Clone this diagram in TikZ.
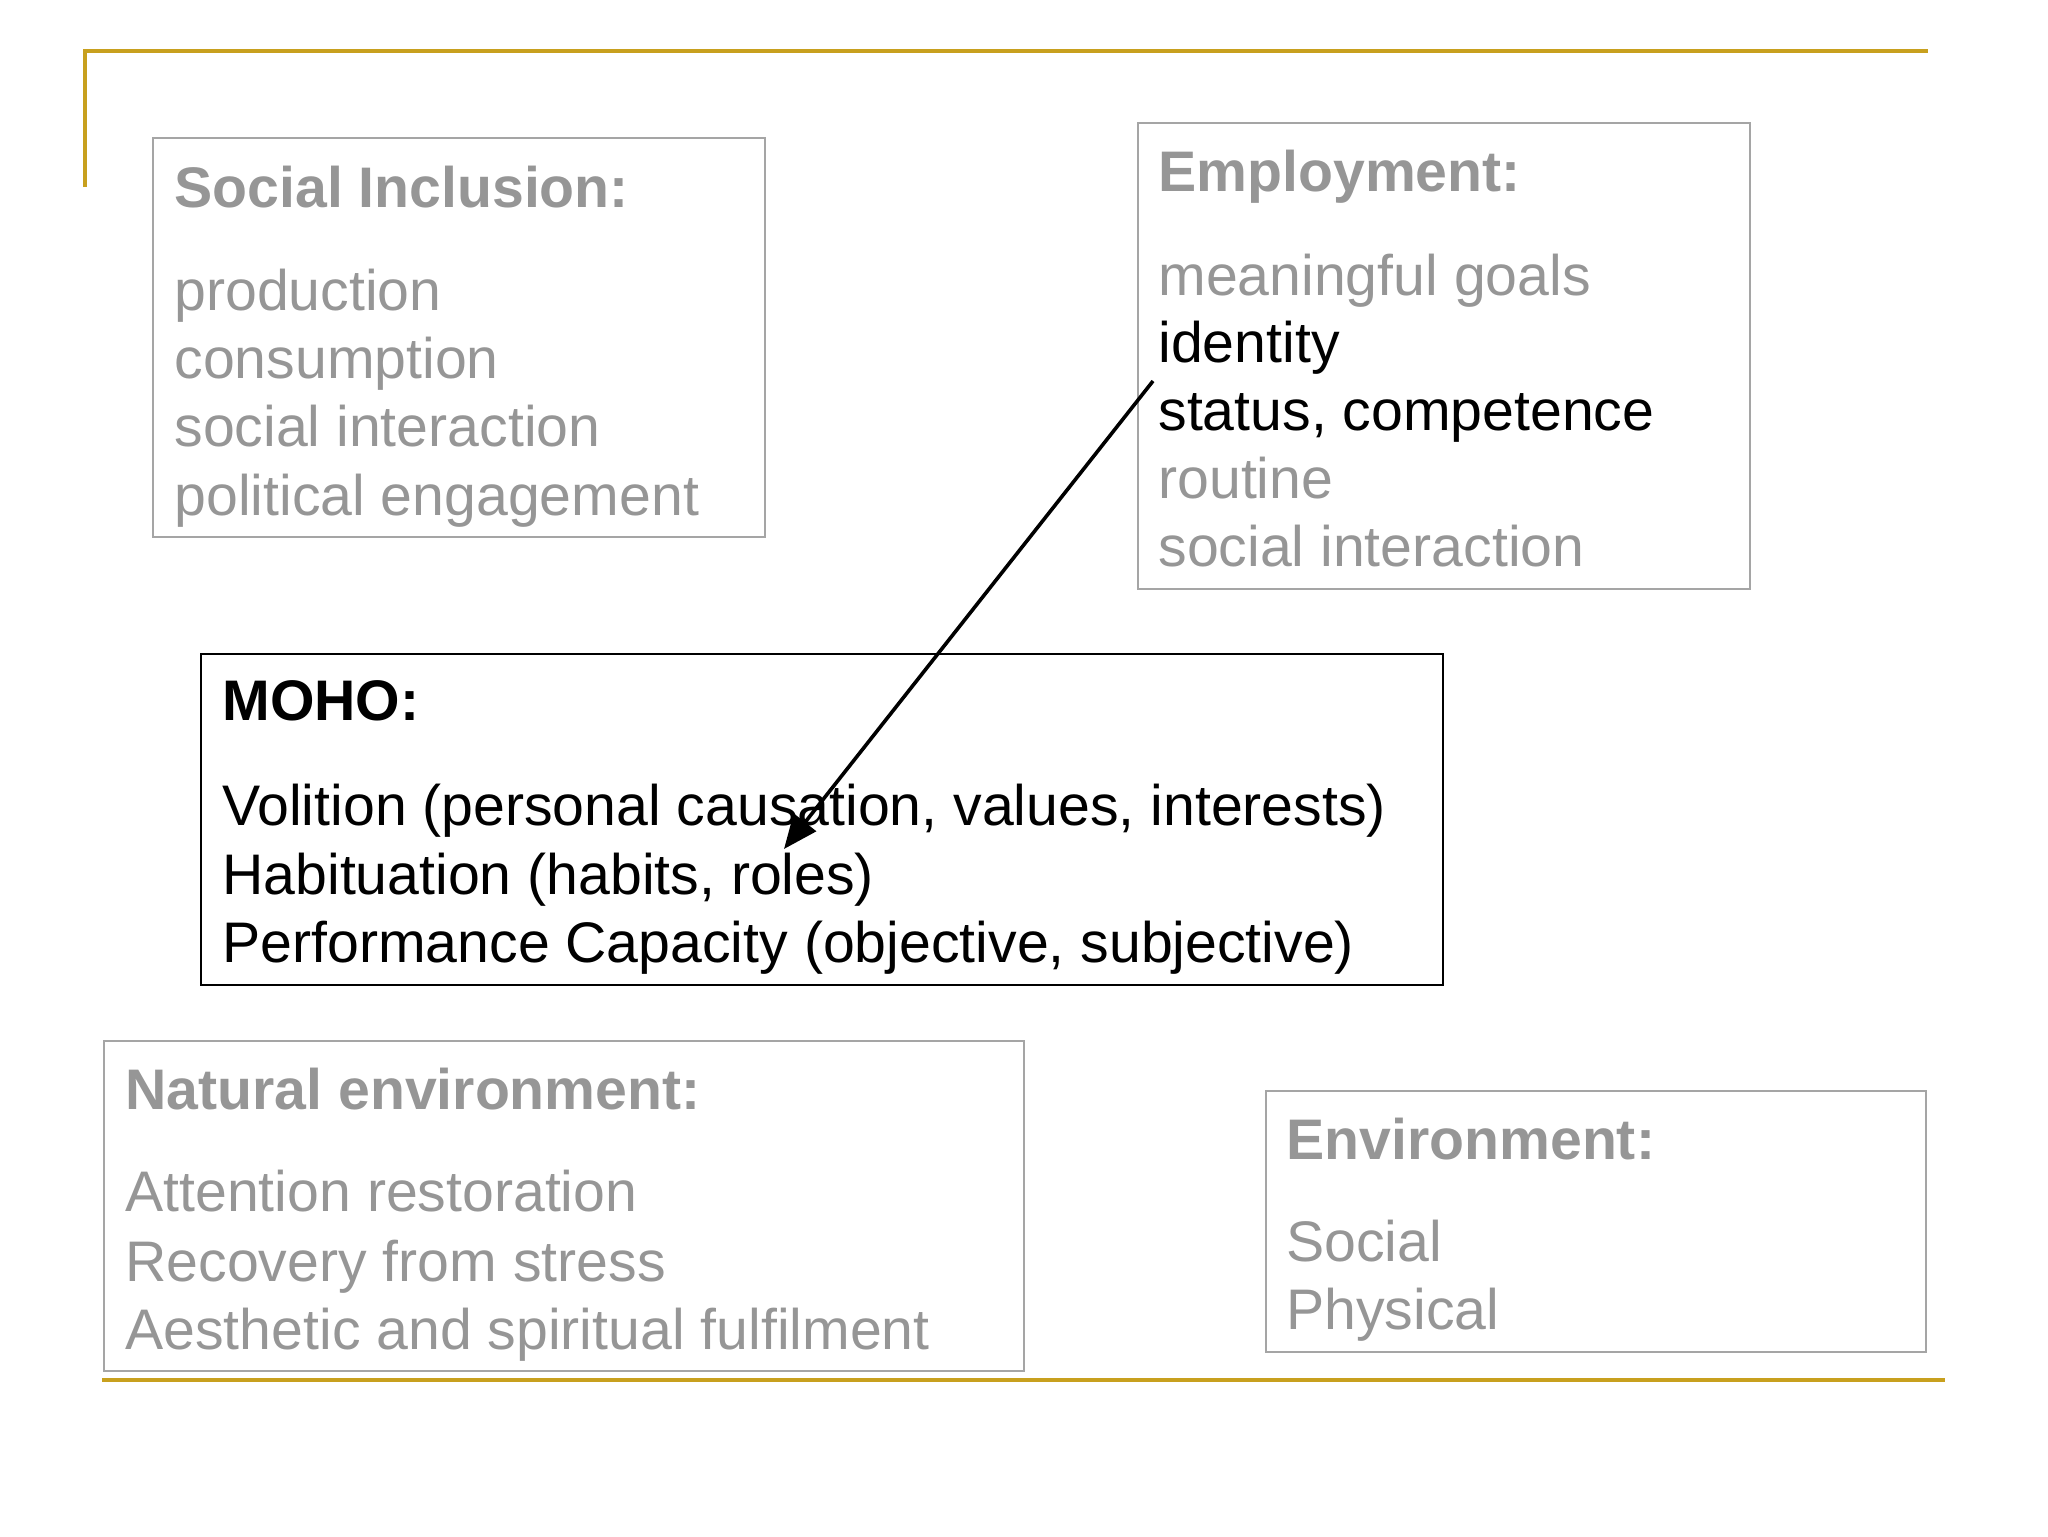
\documentclass[tikz,border=0pt]{standalone}
\usepackage{fontspec}
\setmainfont{Liberation Sans}
\usetikzlibrary{arrows.meta}
\definecolor{goldline}{RGB}{200,160,30}
\definecolor{graytext}{RGB}{150,150,150}
\definecolor{grayframe}{RGB}{165,165,165}
\tikzset{
  boxg/.style={draw=grayframe,line width=1pt},
  boxk/.style={draw=black,line width=1pt},
  txt/.style={anchor=base west,inner sep=0pt,font=\fontsize{28.6}{34}\selectfont},
  txtg/.style={txt,text=graytext},
  txtk/.style={txt,text=black},
  ttlg/.style={txtg,font=\fontsize{28.6}{34}\selectfont\bfseries},
  ttlk/.style={txtk,font=\fontsize{28.6}{34}\selectfont\bfseries},
  rule/.style={draw=goldline,line width=2pt},
  conn/.style={draw=black,line width=1.8pt,-{Triangle[length=17pt,width=14pt]}}
}
\begin{document}
\begin{tikzpicture}[x=0.5pt,y=-0.5pt]
\useasboundingbox (0,0) rectangle (2048,1536);
% gold rules
\draw[rule] (85,187) -- (85,51) -- (1928,51);
\draw[rule] (102,1380) -- (1945,1380);
% Social Inclusion
\draw[boxg] (153,138) rectangle (765,537);
\node[ttlg] (si0) at (174,207) {Social Inclusion:};
\node[txtg] (si1) at (174,310) {production};
\node[txtg] (si2) at (174,378) {consumption};
\node[txtg] (si3) at (174,446) {social interaction};
\node[txtg] (si4) at (174,515) {political engagement};
% Employment
\draw[boxg] (1138,123) rectangle (1750,589);
\node[ttlg] (em0) at (1158,191) {Employment:};
\node[txtg] (em1) at (1158,295) {meaningful goals};
\node[txtk] (em2) at (1158,362) {identity};
\node[txtk] (em3) at (1158,430) {status, competence};
\node[txtg] (em4) at (1158,498) {routine};
\node[txtg] (em5) at (1158,566) {social interaction};
% MOHO
\draw[boxk] (201,654) rectangle (1443,985);
\node[ttlk] (mo0) at (222,720) {MOHO:};
\node[txtk] (mo1) at (222,825) {Volition (personal causation, values, interests)};
\node[txtk] (mo2) at (222,894) {Habituation (habits, roles)};
\node[txtk] (mo3) at (222,962) {Performance Capacity (objective, subjective)};
% Natural environment
\draw[boxg] (104,1041) rectangle (1024,1371);
\node[ttlg] (ne0) at (125,1109) {Natural environment:};
\node[txtg] (ne1) at (125,1211) {Attention restoration};
\node[txtg] (ne2) at (125,1281) {Recovery from stress};
\node[txtg] (ne3) at (125,1349) {Aesthetic and spiritual fulfilment};
% Environment
\draw[boxg] (1266,1091) rectangle (1926,1352);
\node[ttlg] (en0) at (1286,1159) {Environment:};
\node[txtg] (en1) at (1286,1261) {Social};
\node[txtg] (en2) at (1286,1329) {Physical};
% arrow
\coordinate (astart) at (1153,381);
\coordinate (aend) at (784,849);
\draw[conn] (astart) -- (aend);
\end{tikzpicture}
\end{document}
